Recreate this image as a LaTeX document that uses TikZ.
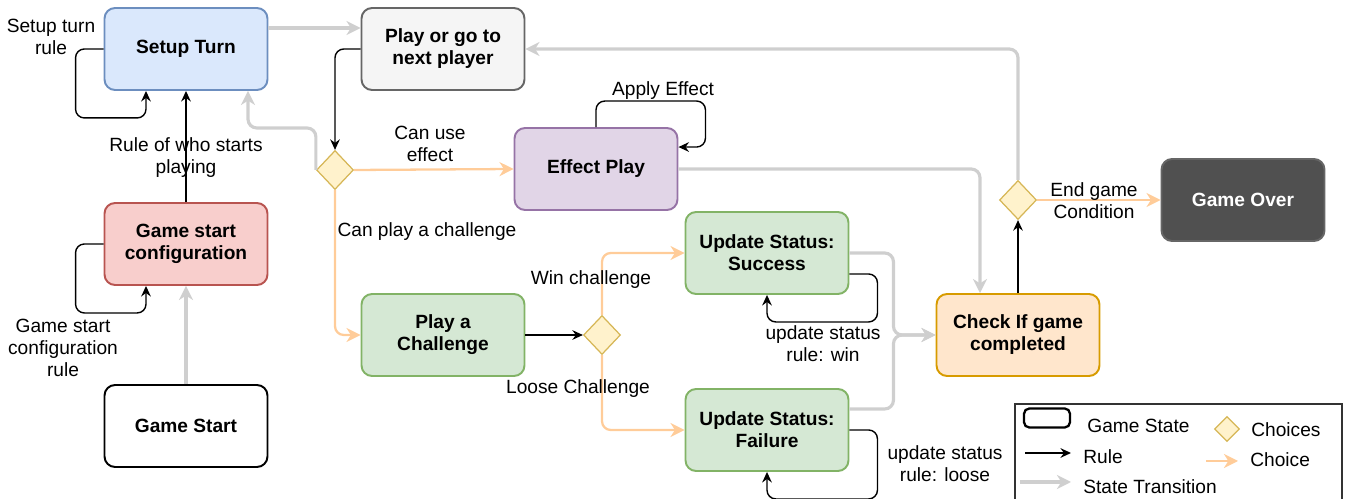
\documentclass[tikz,border=0pt]{standalone}
\usepackage{fontspec}
\setmainfont{Liberation Sans}
\usetikzlibrary{shapes.geometric, arrows.meta, calc}
\definecolor{setupfill}{HTML}{DAE8FC}
\definecolor{setupdraw}{HTML}{6C8EBF}
\definecolor{playfill}{HTML}{F5F5F5}
\definecolor{playdraw}{HTML}{666666}
\definecolor{configfill}{HTML}{F8CECC}
\definecolor{configdraw}{HTML}{B85450}
\definecolor{effectfill}{HTML}{E1D5E7}
\definecolor{effectdraw}{HTML}{9673A6}
\definecolor{statusfill}{HTML}{D5E8D4}
\definecolor{statusdraw}{HTML}{82B366}
\definecolor{checkfill}{HTML}{FFE6CC}
\definecolor{checkdraw}{HTML}{D79B00}
\definecolor{overfill}{HTML}{505050}
\definecolor{choicefill}{HTML}{FFF2CC}
\definecolor{choicedraw}{HTML}{D6B656}
\definecolor{transgray}{HTML}{CFCFCF}
\definecolor{choiceorange}{HTML}{FFCC99}

\begin{document}
\begin{tikzpicture}[
      x=0.02cm, y=-0.02cm,
      font=\fontsize{10.9pt}{12.5pt}\selectfont,
      state/.style={rectangle, rounded corners=6pt, draw, line width=1.1pt, minimum width=3.26cm, minimum height=1.64cm, align=center, font=\fontsize{10.9pt}{12.5pt}\selectfont\bfseries},
      choice/.style={diamond, draw=choicedraw, fill=choicefill, line width=0.7pt, minimum width=0.74cm, minimum height=0.78cm, inner sep=0pt},
      ruleedge/.style={-{Stealth[length=6pt, width=5.5pt, inset=2pt]}, draw=black, line width=0.8pt, rounded corners=5pt},
      stateedge/.style={-{Stealth[length=8pt, width=8pt, inset=2.5pt]}, draw=transgray, line width=1.8pt, rounded corners=5pt},
      choiceedge/.style={-{Stealth[length=8pt, width=8pt, inset=2.5pt]}, draw=choiceorange, line width=1.3pt, rounded corners=5pt},
      lbl/.style={align=center, inner sep=1pt}
  ]
  \useasboundingbox (0,0) rectangle (1346,499);

  % States
  \node[state, fill=setupfill, draw=setupdraw] (setup) at (186,49) {Setup Turn};
  \node[state, fill=playfill, draw=playdraw] (play) at (443,49) {Play or go to\\next player};
  \node[state, fill=configfill, draw=configdraw] (config) at (186,244) {Game start\\configuration};
  \node[state, fill=white, draw=black] (start) at (186,426) {Game Start};
  \node[state, fill=effectfill, draw=effectdraw] (effect) at (596,169) {Effect Play};
  \node[state, fill=statusfill, draw=statusdraw] (success) at (767,253) {Update Status:\\Success};
  \node[state, fill=statusfill, draw=statusdraw] (challenge) at (443,335) {Play a\\Challenge};
  \node[state, fill=statusfill, draw=statusdraw] (failure) at (767,430) {Update Status:\\Failure};
  \node[state, fill=checkfill, draw=checkdraw] (check) at (1018,335) {Check If game\\completed};
  \node[state, fill=overfill, draw=playdraw, text=white] (over) at (1243,200) {Game Over};

  % Choices
  \node[choice] (choiceA) at (335,170) {};
  \node[choice] (choiceB) at (602,335) {};
  \node[choice] (choiceC) at (1018,200) {};

  % Rules
  \draw[ruleedge] (setup.west) -- ++(-28,0) |- ($(setup.south)+(-40,27)$) -- ($(setup.south)+(-40,0)$);
  \draw[ruleedge] (config.west) -- ++(-28,0) |- ($(config.south)+(-40,27)$) -- ($(config.south)+(-40,0)$);
  \draw[ruleedge] (config.north) -- (setup.south);
  \draw[ruleedge] (play.west) -| (choiceA.north);
  \draw[ruleedge] (effect.north) -- ++(0,-26) -| ($(effect.north east)+(27,20)$) -- ($(effect.north east)+(0,20)$);
  \draw[ruleedge] (challenge.east) -- (choiceB.west);
  \draw[ruleedge] ($(success.east)+(0,21)$) -- ++(28,0) |- ($(success.south)+(0,27)$) -- (success.south);
  \draw[ruleedge] (failure.east) -- ++(28,0) |- ($(failure.south)+(0,27)$) -- (failure.south);
  \draw[ruleedge] (check.north) -- (choiceC.south);

  % State transitions
  \draw[stateedge] ($(setup.east)+(0,-21)$) -- ($(play.west)+(0,-21)$);
  \draw[stateedge] (start.north) -- (config.south);
  \draw[stateedge] (choiceA.west) -- ++(0,-42) -| ($(setup.south)+(62,0)$);
  \draw[stateedge] (effect.east) -| ($(check.north)+(-38,0)$);
  \draw[stateedge] (success.east) -- ++(44,0) |- (check.west);
  \draw[stateedge] ($(failure.east)+(0,-21)$) -- ++(44,0) |- (check.west);
  \draw[stateedge] (choiceC.north) |- (play.east);

  % Choice edges
  \draw[choiceedge] (choiceA.east) -- (effect.west);
  \draw[choiceedge] (choiceA.south) |- (challenge.west);
  \draw[choiceedge] (choiceB.north) |- (success.west);
  \draw[choiceedge] (choiceB.south) |- (failure.west);
  \draw[choiceedge] (choiceC.east) -- (over.west);

  % Labels
  \node[lbl] (setuplbl) at (51,37) {Setup turn\\rule};
  \node[lbl] (whostarts) at (186,158) {Rule of who starts\\playing};
  \node[lbl] (configlbl) at (63,348) {Game start\\configuration\\rule};
  \node[lbl] (uselbl) at (430,144) {Can use\\effect};
  \node[lbl] (challengelbl) at (427,232) {Can play a challenge};
  \node[lbl] (applylbl) at (663,91) {Apply Effect};
  \node[lbl] (winlbl) at (591,280) {Win challenge};
  \node[lbl] (looselbl) at (578,389) {Loose Challenge};
  \node[lbl] (winrule) at (823,344) {update status\\rule: win};
  \node[lbl] (looserule) at (945,464) {update status\\rule: loose};
  \node[lbl] (endlbl) at (1094,201) {End game\\Condition};

  % Legend
  \draw[black!80, line width=1pt] (1015,404) rectangle (1342,505);
  \node[draw=black, line width=1.3pt, rounded corners=3pt, minimum width=0.92cm, minimum height=0.38cm] (keystate) at (1047,418) {};
  \node[anchor=west, inner sep=0pt] (keystatelbl) at (1087,426) {Game State};
  \node[choice, minimum width=0.5cm, minimum height=0.5cm] (keychoice) at (1227,429) {};
  \node[anchor=west, inner sep=0pt] (keychoicelbl) at (1251,430) {Choices};
  \coordinate (ruleA) at (1025,453);
  \coordinate (ruleB) at (1071,453);
  \draw[ruleedge] (ruleA) -- (ruleB);
  \node[anchor=west, inner sep=0pt] (keyrulelbl) at (1083,457) {Rule};
  \coordinate (pickA) at (1206,461);
  \coordinate (pickB) at (1238,461);
  \draw[choiceedge] (pickA) -- (pickB);
  \node[anchor=west, inner sep=0pt] (keypicklbl) at (1250,460) {Choice};
  \coordinate (moveA) at (1020,482);
  \coordinate (moveB) at (1071,482);
  \draw[stateedge] (moveA) -- (moveB);
  \node[anchor=west, inner sep=0pt] (keymovelbl) at (1083,487) {State Transition};

\end{tikzpicture}
\end{document}
